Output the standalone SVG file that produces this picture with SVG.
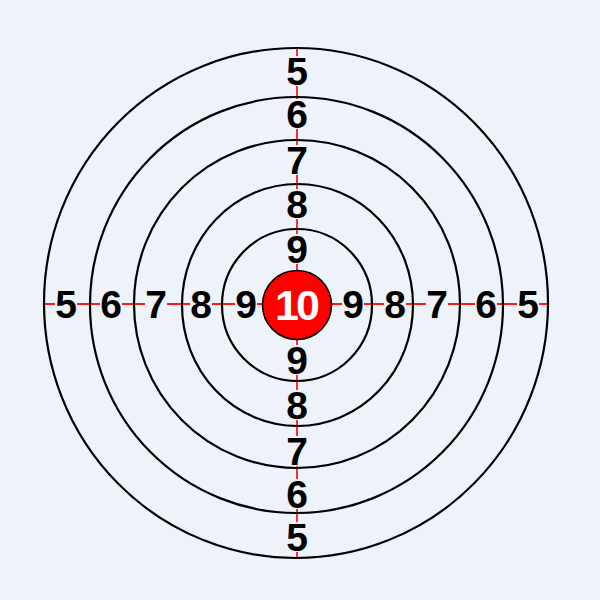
<svg xmlns="http://www.w3.org/2000/svg" width="600" height="600" viewBox="0 0 600 600">
<style>
.ring{fill:none;stroke:#000;stroke-width:2.2}
.cross{stroke:#ff1a1a;stroke-width:1.8}
.bg{fill:#eef3fa}
.lbl{font-family:"Liberation Sans",Arial,sans-serif;font-weight:bold;font-size:39px;text-anchor:middle;fill:#000}
.bull{font-family:"Liberation Sans",Arial,sans-serif;font-weight:bold;font-size:43px;text-anchor:middle;fill:#fff;letter-spacing:-3px}
</style>
<rect width="600" height="600" fill="#eef3fa"/>
<g id="crosshair">
<line class="cross" x1="43" y1="304" x2="549" y2="304"/>
<line class="cross" x1="297" y1="48" x2="297" y2="558"/>
</g>
<g id="label-backgrounds">
<rect class="bg" x="55" y="288" width="22" height="32"/>
<rect class="bg" x="100" y="288" width="22" height="32"/>
<rect class="bg" x="145" y="288" width="22" height="32"/>
<rect class="bg" x="190" y="288" width="22" height="32"/>
<rect class="bg" x="235" y="288" width="22" height="32"/>
<rect class="bg" x="342" y="288" width="22" height="32"/>
<rect class="bg" x="384" y="288" width="22" height="32"/>
<rect class="bg" x="426" y="288" width="22" height="32"/>
<rect class="bg" x="475" y="288" width="22" height="32"/>
<rect class="bg" x="517" y="288" width="22" height="32"/>
<rect class="bg" x="285" y="56" width="24" height="30"/>
<rect class="bg" x="285" y="99" width="24" height="30"/>
<rect class="bg" x="285" y="145" width="24" height="30"/>
<rect class="bg" x="285" y="189" width="24" height="30"/>
<rect class="bg" x="285" y="234" width="24" height="30"/>
<rect class="bg" x="285" y="345" width="24" height="30"/>
<rect class="bg" x="285" y="390" width="24" height="30"/>
<rect class="bg" x="285" y="436" width="24" height="30"/>
<rect class="bg" x="285" y="479" width="24" height="30"/>
<rect class="bg" x="285" y="522" width="24" height="30"/>
</g>
<g id="ring5"><ellipse class="ring" cx="296" cy="303" rx="252" ry="255"/></g>
<g id="ring6"><ellipse class="ring" cx="296.5" cy="305" rx="206.5" ry="208"/></g>
<g id="ring7"><ellipse class="ring" cx="297" cy="304" rx="163" ry="164"/></g>
<g id="ring8"><ellipse class="ring" cx="297.5" cy="305" rx="115.5" ry="121"/></g>
<g id="ring9"><ellipse class="ring" cx="297" cy="305" rx="75" ry="76"/></g>
<g id="bullseye">
<circle cx="297" cy="305" r="34.5" fill="#ff0000" stroke="#000" stroke-width="1.5"/>
<text class="bull" x="296" y="320">10</text>
</g>
<g id="labels-horizontal">
<text class="lbl" x="66" y="318">5</text>
<text class="lbl" x="111" y="318">6</text>
<text class="lbl" x="156" y="318">7</text>
<text class="lbl" x="201" y="318">8</text>
<text class="lbl" x="246" y="318">9</text>
<text class="lbl" x="353" y="318">9</text>
<text class="lbl" x="395" y="318">8</text>
<text class="lbl" x="437" y="318">7</text>
<text class="lbl" x="486" y="318">6</text>
<text class="lbl" x="528" y="318">5</text>
</g>
<g id="labels-vertical">
<text class="lbl" x="297" y="85">5</text>
<text class="lbl" x="297" y="128">6</text>
<text class="lbl" x="297" y="174">7</text>
<text class="lbl" x="297" y="218">8</text>
<text class="lbl" x="297" y="263">9</text>
<text class="lbl" x="297" y="374">9</text>
<text class="lbl" x="297" y="419">8</text>
<text class="lbl" x="297" y="465">7</text>
<text class="lbl" x="297" y="508">6</text>
<text class="lbl" x="297" y="551">5</text>
</g>
</svg>
